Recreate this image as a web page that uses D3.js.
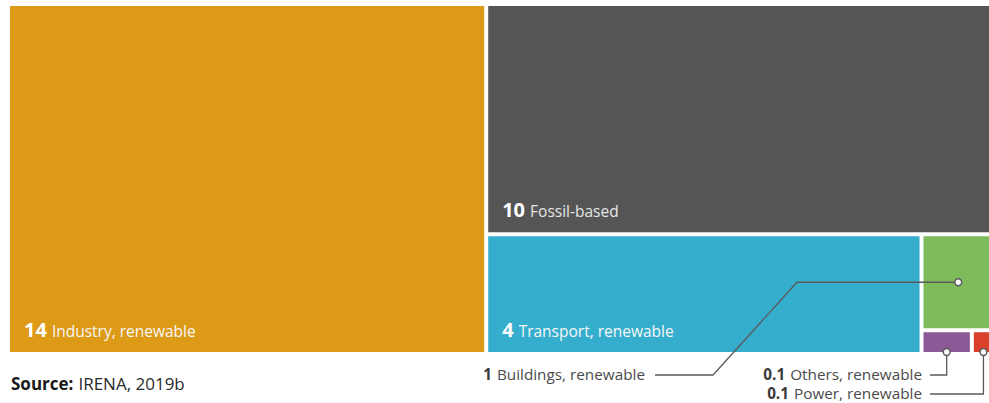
<!DOCTYPE html>
<html>
<head>
<meta charset="utf-8">
<script src="https://cdn.jsdelivr.net/npm/d3@7/dist/d3.min.js"></script>
<style>
  html, body { margin: 0; padding: 0; background: #fff; }
  svg { display: block; font-family: "Open Sans", "Noto Sans", sans-serif; }
</style>
</head>
<body>
<svg id="chart" width="989" height="403"></svg>
<script>
// ---- data (areas; labels as printed) ----
const categories = ["Industry, renewable", "Fossil-based", "Transport, renewable",
                    "Buildings, renewable", "Others, renewable", "Power, renewable"];
const areaValues = [14, 9.8, 4.36, 0.59, 0.1, 0.046];
const valueLabels = ["14", "10", "4", "1", "0.1", "0.1"];
const colors = ["#DC9A17", "#555555", "#35ADCC", "#7DBB5B", "#8B5A96", "#D9412B"];
const sourceLabel = ["Source:", "IRENA, 2019b"];

// nested structure matching the slice-and-dice arrangement
const leaf = i => ({ name: categories[i], value: areaValues[i], idx: i });
const tree = {
  name: "root",
  children: [
    leaf(0),
    { name: "rest", children: [
      leaf(1),
      { name: "renew", children: [
        leaf(2),
        { name: "small", children: [
          leaf(3),
          { name: "tiny", children: [leaf(4), leaf(5)] }
        ]}
      ]}
    ]}
  ]
};

const svg = d3.select("#chart");
const margin = { left: 10, top: 6 };
const W = 983, H = 346;

const root = d3.hierarchy(tree).sum(d => d.value || 0);
d3.treemap()
  .tile(d3.treemapSliceDice)
  .size([W, H])
  .paddingInner(4)
  .round(false)(root);

const g = svg.append("g").attr("transform", `translate(${margin.left},${margin.top})`);
const leaves = root.leaves();
const byIdx = {};
leaves.forEach(d => byIdx[d.data.idx] = d);

g.selectAll("rect.cell")
  .data(leaves)
  .join("rect")
  .attr("class", "cell")
  .attr("x", d => d.x0)
  .attr("y", d => d.y0)
  .attr("width", d => d.x1 - d.x0)
  .attr("height", d => d.y1 - d.y0)
  .attr("fill", d => colors[d.data.idx]);

// inside labels for the three big cells
const inside = [0, 1, 2];
inside.forEach(i => {
  const d = byIdx[i];
  const t = g.append("text")
    .attr("x", d.x0 + 14)
    .attr("y", d.y1 - 15)
    .attr("fill", "#fff");
  t.append("tspan").attr("font-weight", 700).attr("font-size", 20).text(valueLabels[i]);
  t.append("tspan").attr("dx", 5).attr("font-size", 15.5)
    .attr("fill", i === 1 ? "#e6e6e6" : "#f7f7f7").text(categories[i]);
});

// callouts for the small cells
const lineColor = "#5a5a5a";
function outsideLabel(i, xRight, yBase) {
  const t = svg.append("text")
    .attr("x", xRight).attr("y", yBase)
    .attr("text-anchor", "end")
    .attr("font-size", 15.3);
  t.append("tspan").attr("font-weight", 700).attr("fill", "#3a3a3a").text(valueLabels[i]);
  t.append("tspan").attr("dx", 5).attr("fill", "#4a4a4a").text(categories[i]);
}
function dot(x, y) {
  svg.append("circle").attr("cx", x).attr("cy", y).attr("r", 3.4)
    .attr("fill", "#fff").attr("stroke", lineColor).attr("stroke-width", 1.5);
}
const line = d3.line();

// Buildings
{
  const d = byIdx[3];
  const cx = margin.left + (d.x0 + d.x1) / 2, cy = margin.top + (d.y0 + d.y1) / 2;
  const yl = 375;
  svg.append("path")
    .attr("d", line([[655, yl], [713, yl], [797, cy], [cx, cy]]))
    .attr("fill", "none").attr("stroke", lineColor).attr("stroke-width", 1.3);
  dot(cx, cy);
  outsideLabel(3, 645, 380);
}
// Others
{
  const d = byIdx[4];
  const cx = margin.left + (d.x0 + d.x1) / 2, cy = margin.top + d.y1;
  const yl = 375;
  svg.append("path")
    .attr("d", line([[930, yl], [cx, yl], [cx, cy]]))
    .attr("fill", "none").attr("stroke", lineColor).attr("stroke-width", 1.3);
  dot(cx, cy);
  outsideLabel(4, 922, 380);
}
// Power
{
  const d = byIdx[5];
  const cx = margin.left + (d.x0 + d.x1) / 2, cy = margin.top + d.y1;
  const yl = 394;
  svg.append("path")
    .attr("d", line([[930, yl], [cx, yl], [cx, cy]]))
    .attr("fill", "none").attr("stroke", lineColor).attr("stroke-width", 1.3);
  dot(cx, cy);
  outsideLabel(5, 922, 399);
}

// source line
{
  const t = svg.append("text").attr("x", 11).attr("y", 390).attr("font-size", 17).attr("fill", "#1a1a1a");
  t.append("tspan").attr("font-weight", 700).text(sourceLabel[0]);
  t.append("tspan").attr("dx", 5).attr("fill", "#2a2a2a").text(sourceLabel[1]);
}
</script>
</body>
</html>
